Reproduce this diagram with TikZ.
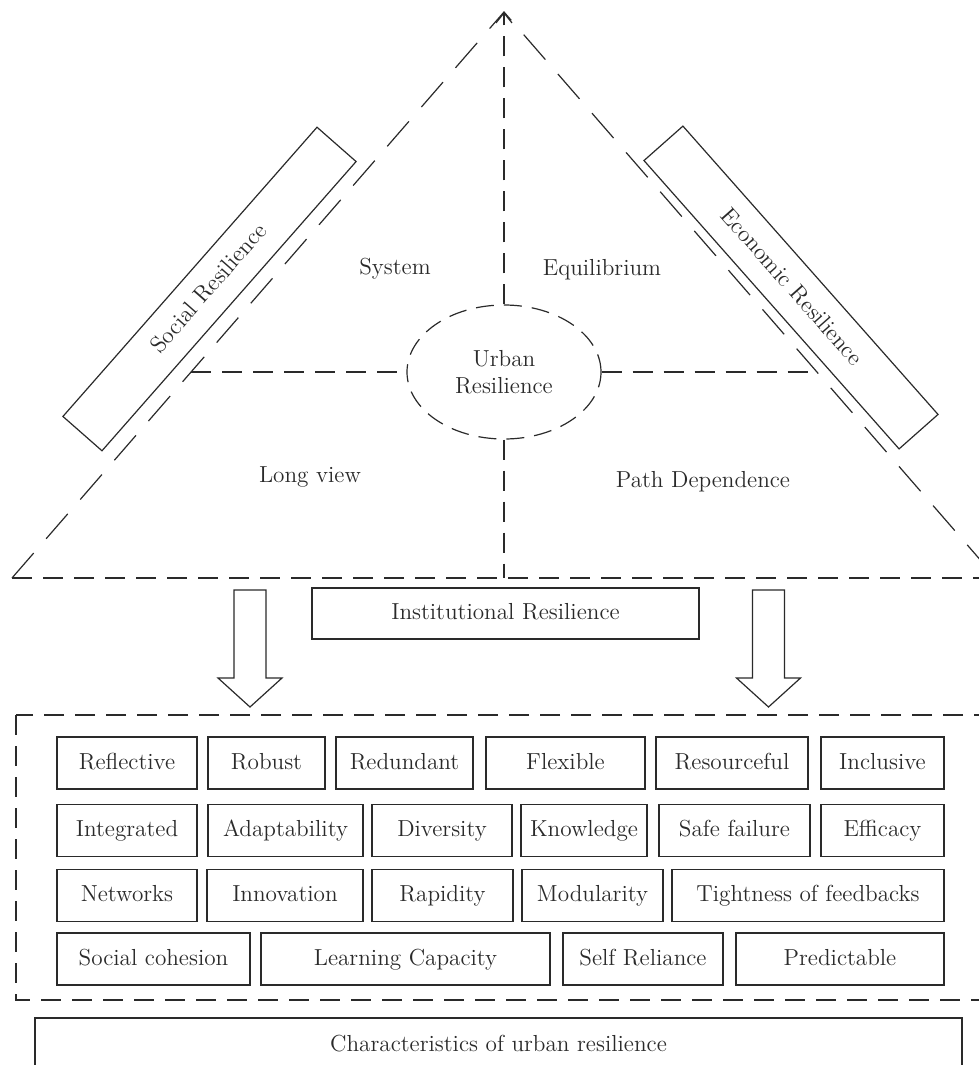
\documentclass[tikz,border=0pt]{standalone}
\usepackage{tikz}
\usetikzlibrary{shapes.geometric,arrows.meta}
\definecolor{inkgray}{HTML}{2A2A2A}
\newcommand*\px{0.5pt}
\newcommand*\txtsize{\fontsize{11.6}{13.5}\selectfont}
\tikzset{
    labeltext/.style = {text=inkgray, font=\txtsize, inner sep=0pt},
    box/.style       = {labeltext, draw=inkgray, line width=0.6pt, rectangle,
                        minimum height=26pt, text height=1.6ex, text depth=0.15ex},
    charcell/.style  = {box},
    tiltbox/.style   = {box, minimum width=192.5pt},
    hubnode/.style   = {labeltext, draw=inkgray, line width=0.6pt, ellipse,
                        dash pattern=on 9pt off 5pt, align=center,
                        minimum width=97pt, minimum height=67pt},
    dashln/.style    = {draw=inkgray, line width=0.6pt, dash pattern=on 10pt off 5.5pt},
    sideln/.style    = {draw=inkgray, line width=0.6pt, dash pattern=on 16.5pt off 9.5pt},
    blockarrow/.style= {draw=inkgray, line width=0.6pt, line join=miter},
  }

\begin{document}
\begin{tikzpicture}[x=\px, y=-\px]
      \useasboundingbox (0,0) rectangle (979,1065);
      \clip (0,0) rectangle (979,1065);

      % corners of the triangle
      \coordinate (apex) at (504,12);
      \coordinate (bl)   at (12,578);
      \coordinate (br)   at (996,578);
      \coordinate (ml)   at (191,372);
      \coordinate (mr)   at (817,372);
      \coordinate (bm)   at (504,578);

      % centre of the triangle
      \node[hubnode] (urban) at (504,372) {Urban\\Resilience};

      \draw[sideln] (bl) -- (apex) -- (br);
      \draw[dashln] (bl) -- (br);
      \draw[dashln,-{Straight Barb[length=5pt,width=8pt]}] (urban.north) -- (apex);
      \draw[dashln] (urban.south) -- (bm);
      \draw[dashln] (ml) -- (urban.west);
      \draw[dashln] (urban.east) -- (mr);

      % boxes along the sides
      \node[tiltbox, rotate=48.7]  (social)   at (209.5,289) {Social Resilience\hspace{17pt}};
      \node[tiltbox, rotate=-48.5] (economic) at (791,287.5) {Economic Resilience};

      % the four parts
      \node[labeltext] (system)   at (395,269) {System};
      \node[labeltext] (equil)    at (602,270) {Equilibrium};
      \node[labeltext] (longview) at (310,477) {Long view};
      \node[labeltext] (pathdep)  at (703,482) {Path Dependence};

      \node[box, minimum width=387*\px, minimum height=51*\px] (institution)
            at (505.5,613.5) {Institutional Resilience};

      % the two block arrows
      \foreach \ax in {250,768.5} {
        \draw[blockarrow] (\ax-16,590) -- (\ax+16,590) -- (\ax+16,678) -- (\ax+32,678)
              -- (\ax,707) -- (\ax-32,678) -- (\ax-16,678) -- cycle;
      }

      % frame round the characteristics
      \draw[dashln] (16,715) rectangle (995,1000);

      % row 1
      \foreach \l/\r/\t [count=\i from 1] in {57/197/Reflective,208/325/Robust,
            336/473/Redundant,486/645/Flexible,656/808/Resourceful,821/944/Inclusive} {
        \node[charcell, minimum width={(\r-\l)*\px}] (ra-\i) at ({(\l+\r)/2},763) {\t};
      }
      % row 2
      \foreach \l/\r/\t [count=\i from 1] in {57/197/Integrated,208/363/Adaptability,
            372/512/Diversity,521/647/Knowledge,659/810/Safe failure,821/944/Efficacy} {
        \node[charcell, minimum width={(\r-\l)*\px}] (rb-\i) at ({(\l+\r)/2},830.5) {\t};
      }
      % row 3
      \foreach \l/\r/\t [count=\i from 1] in {57/197/Networks,207/363/Innovation,
            372/513/Rapidity,522/663/Modularity,672/944/Tightness of feedbacks} {
        \node[charcell, minimum width={(\r-\l)*\px}] (rc-\i) at ({(\l+\r)/2},895.5) {\t};
      }
      % row 4
      \foreach \l/\r/\t [count=\i from 1] in {57/250/Social cohesion,261/550/Learning Capacity,
            563/723/Self Reliance,736/944/Predictable} {
        \node[charcell, minimum width={(\r-\l)*\px}] (rd-\i) at ({(\l+\r)/2},959) {\t};
      }

      \node[box, minimum width=927*\px, minimum height=54*\px] (charlabel)
            at (498.5,1045) {Characteristics of urban resilience};
    \end{tikzpicture}
\end{document}
